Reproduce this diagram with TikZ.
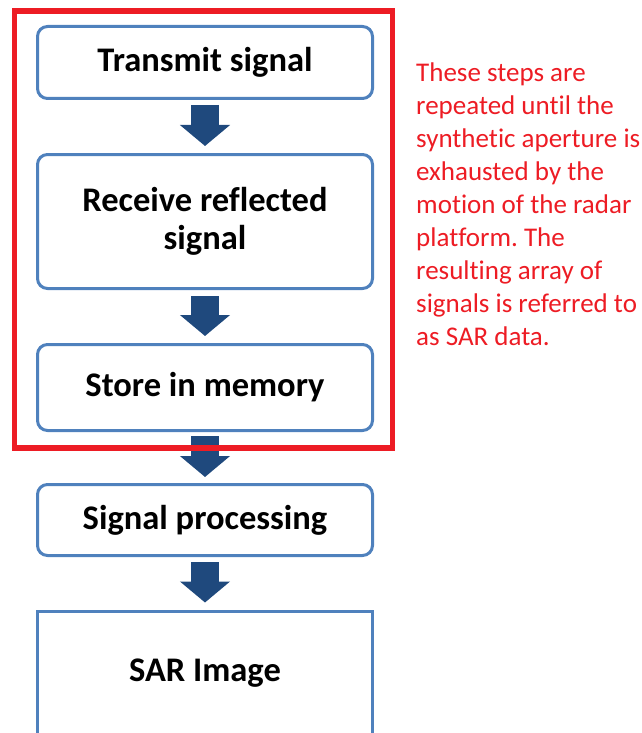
\documentclass[tikz,border=0pt]{standalone}
\usepackage{fontspec}
\setmainfont{Carlito}[Ligatures=NoCommon]
\usepackage{xcolor}
\usetikzlibrary{arrows.meta, positioning}
\frenchspacing

\definecolor{boxblue}{HTML}{4F81BD}
\definecolor{arrowblue}{HTML}{1F497D}
\definecolor{framered}{HTML}{ED1C24}

\tikzset{
    stepbox/.style={draw=boxblue, line width=3pt, rounded corners=10pt, fill=white,
        minimum width=335pt, inner sep=0pt, align=center,
        font=\fontsize{34.5}{38}\selectfont\bfseries},
    blockarrow/.style={draw=arrowblue, line width=28pt,
        -{Triangle[length=21pt, width=49pt, fill=arrowblue]}}
}

\begin{document}
\begin{tikzpicture}[x=1pt, y=-1pt]
                        \useasboundingbox (0, 0) rectangle (642, 733);
                        \node[stepbox, minimum height=72pt] (a) at (205, 62.5) {Transmit signal};
                        \node[stepbox, minimum height=134pt] (b) at (205, 221.5) {Receive reflected\\signal};
                        \node[stepbox, minimum height=86pt] (c) at (205, 387.5) {Store in memory};
                        \node[stepbox, minimum height=71pt] (d) at (205, 520) {Signal processing};
                        \node[stepbox, rounded corners=0pt, minimum height=130pt] (e) at (205, 676) {};
                        \node[font=\fontsize{34.5}{38}\selectfont\bfseries, anchor=base] (el) at (205, 681) {SAR Image};
                        \draw[blockarrow] ([yshift=-5pt]a.south) -- ([yshift=7pt]b.north);
                        \draw[blockarrow] ([yshift=-6pt]b.south) -- ([yshift=7pt]c.north);
                        \draw[blockarrow] ([yshift=-4pt]c.south) -- ([yshift=6pt]d.north);
                        \draw[blockarrow] ([yshift=-5pt]d.south) -- ([yshift=7pt]e.north);
                        \draw[framered, line width=5.5pt] (14.5, 11) rectangle (392.5, 448);
                        \node[anchor=north west, align=left, text=framered, inner sep=0pt,
                            font=\fontsize{27}{33}\selectfont] (note) at (416, 63)
                        {These steps are\\repeated until the\\synthetic aperture is\\exhausted by the\\motion of the radar\\platform. The\\resulting array of\\signals is referred to\\as SAR data.};
                    \end{tikzpicture}
\end{document}
